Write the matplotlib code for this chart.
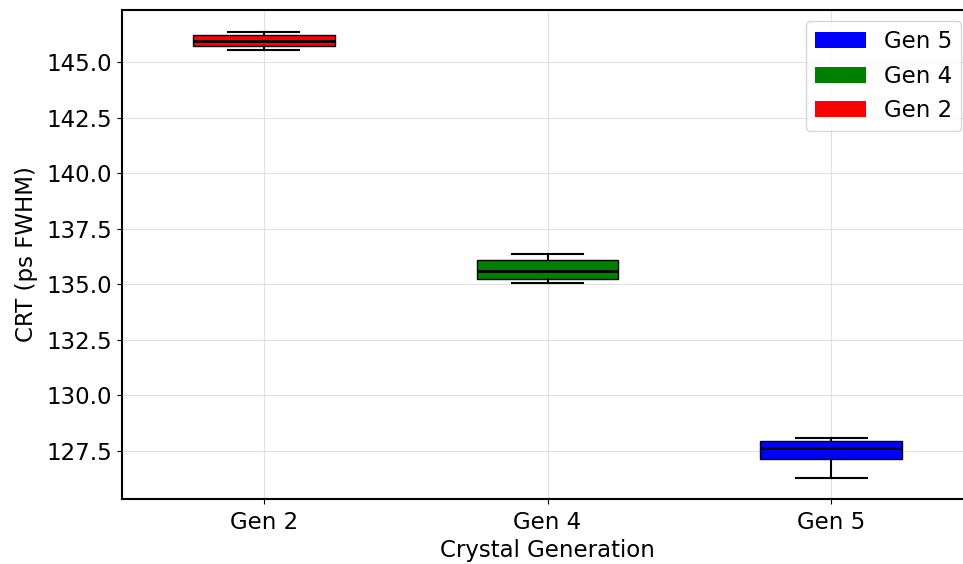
import matplotlib
matplotlib.use('Agg')
import matplotlib.pyplot as plt
from matplotlib.patches import Patch

plt.rcParams['font.size'] = 16.5

# Box statistics (ps FWHM)
labels = ['Gen 2', 'Gen 4', 'Gen 5']
colors = ['red', 'green', 'blue']
whislo = [145.55, 135.07, 126.30]
q1 = [145.71, 135.22, 127.13]
med = [145.96, 135.61, 127.65]
q3 = [146.21, 136.08, 127.94]
whishi = [146.35, 136.36, 128.09]

stats = []
for i, lab in enumerate(labels):
    stats.append({'label': lab, 'whislo': whislo[i], 'q1': q1[i], 'med': med[i],
                  'q3': q3[i], 'whishi': whishi[i], 'fliers': []})

fig = plt.figure(figsize=(9.63, 5.64), dpi=100)
ax = fig.add_axes([122 / 963, 65 / 564, 851 / 963, 489 / 564])

bp = ax.bxp(stats, positions=[1, 2, 3], widths=0.5, patch_artist=True,
            showfliers=False,
            boxprops=dict(edgecolor='black', linewidth=1),
            medianprops=dict(color='black', linewidth=2),
            whiskerprops=dict(color='black', linewidth=1.5),
            capprops=dict(color='black', linewidth=1.5))
for patch, c in zip(bp['boxes'], colors):
    patch.set_facecolor(c)

ax.set_xlim(0.5, 3.5)
ax.set_ylim(125.34, 147.35)
ax.set_yticks([127.5, 130.0, 132.5, 135.0, 137.5, 140.0, 142.5, 145.0])
ax.tick_params(axis='x', pad=5)
ax.set_xlabel('Crystal Generation', labelpad=4)
ax.set_ylabel('CRT (ps FWHM)', labelpad=6)
ax.grid(True, color='#d0d0d0', alpha=0.6)
ax.set_axisbelow(True)
for s in ax.spines.values():
    s.set_linewidth(1.5)

handles = [Patch(facecolor=c, label=l) for c, l in zip(colors[::-1], labels[::-1])]
ax.legend(handles=handles, loc='upper right', bbox_to_anchor=(963 / 851 - 122 / 851 - 0.002, 0.977),
          borderaxespad=0, handlelength=2.2)

fig.savefig('out.png', dpi=100)
